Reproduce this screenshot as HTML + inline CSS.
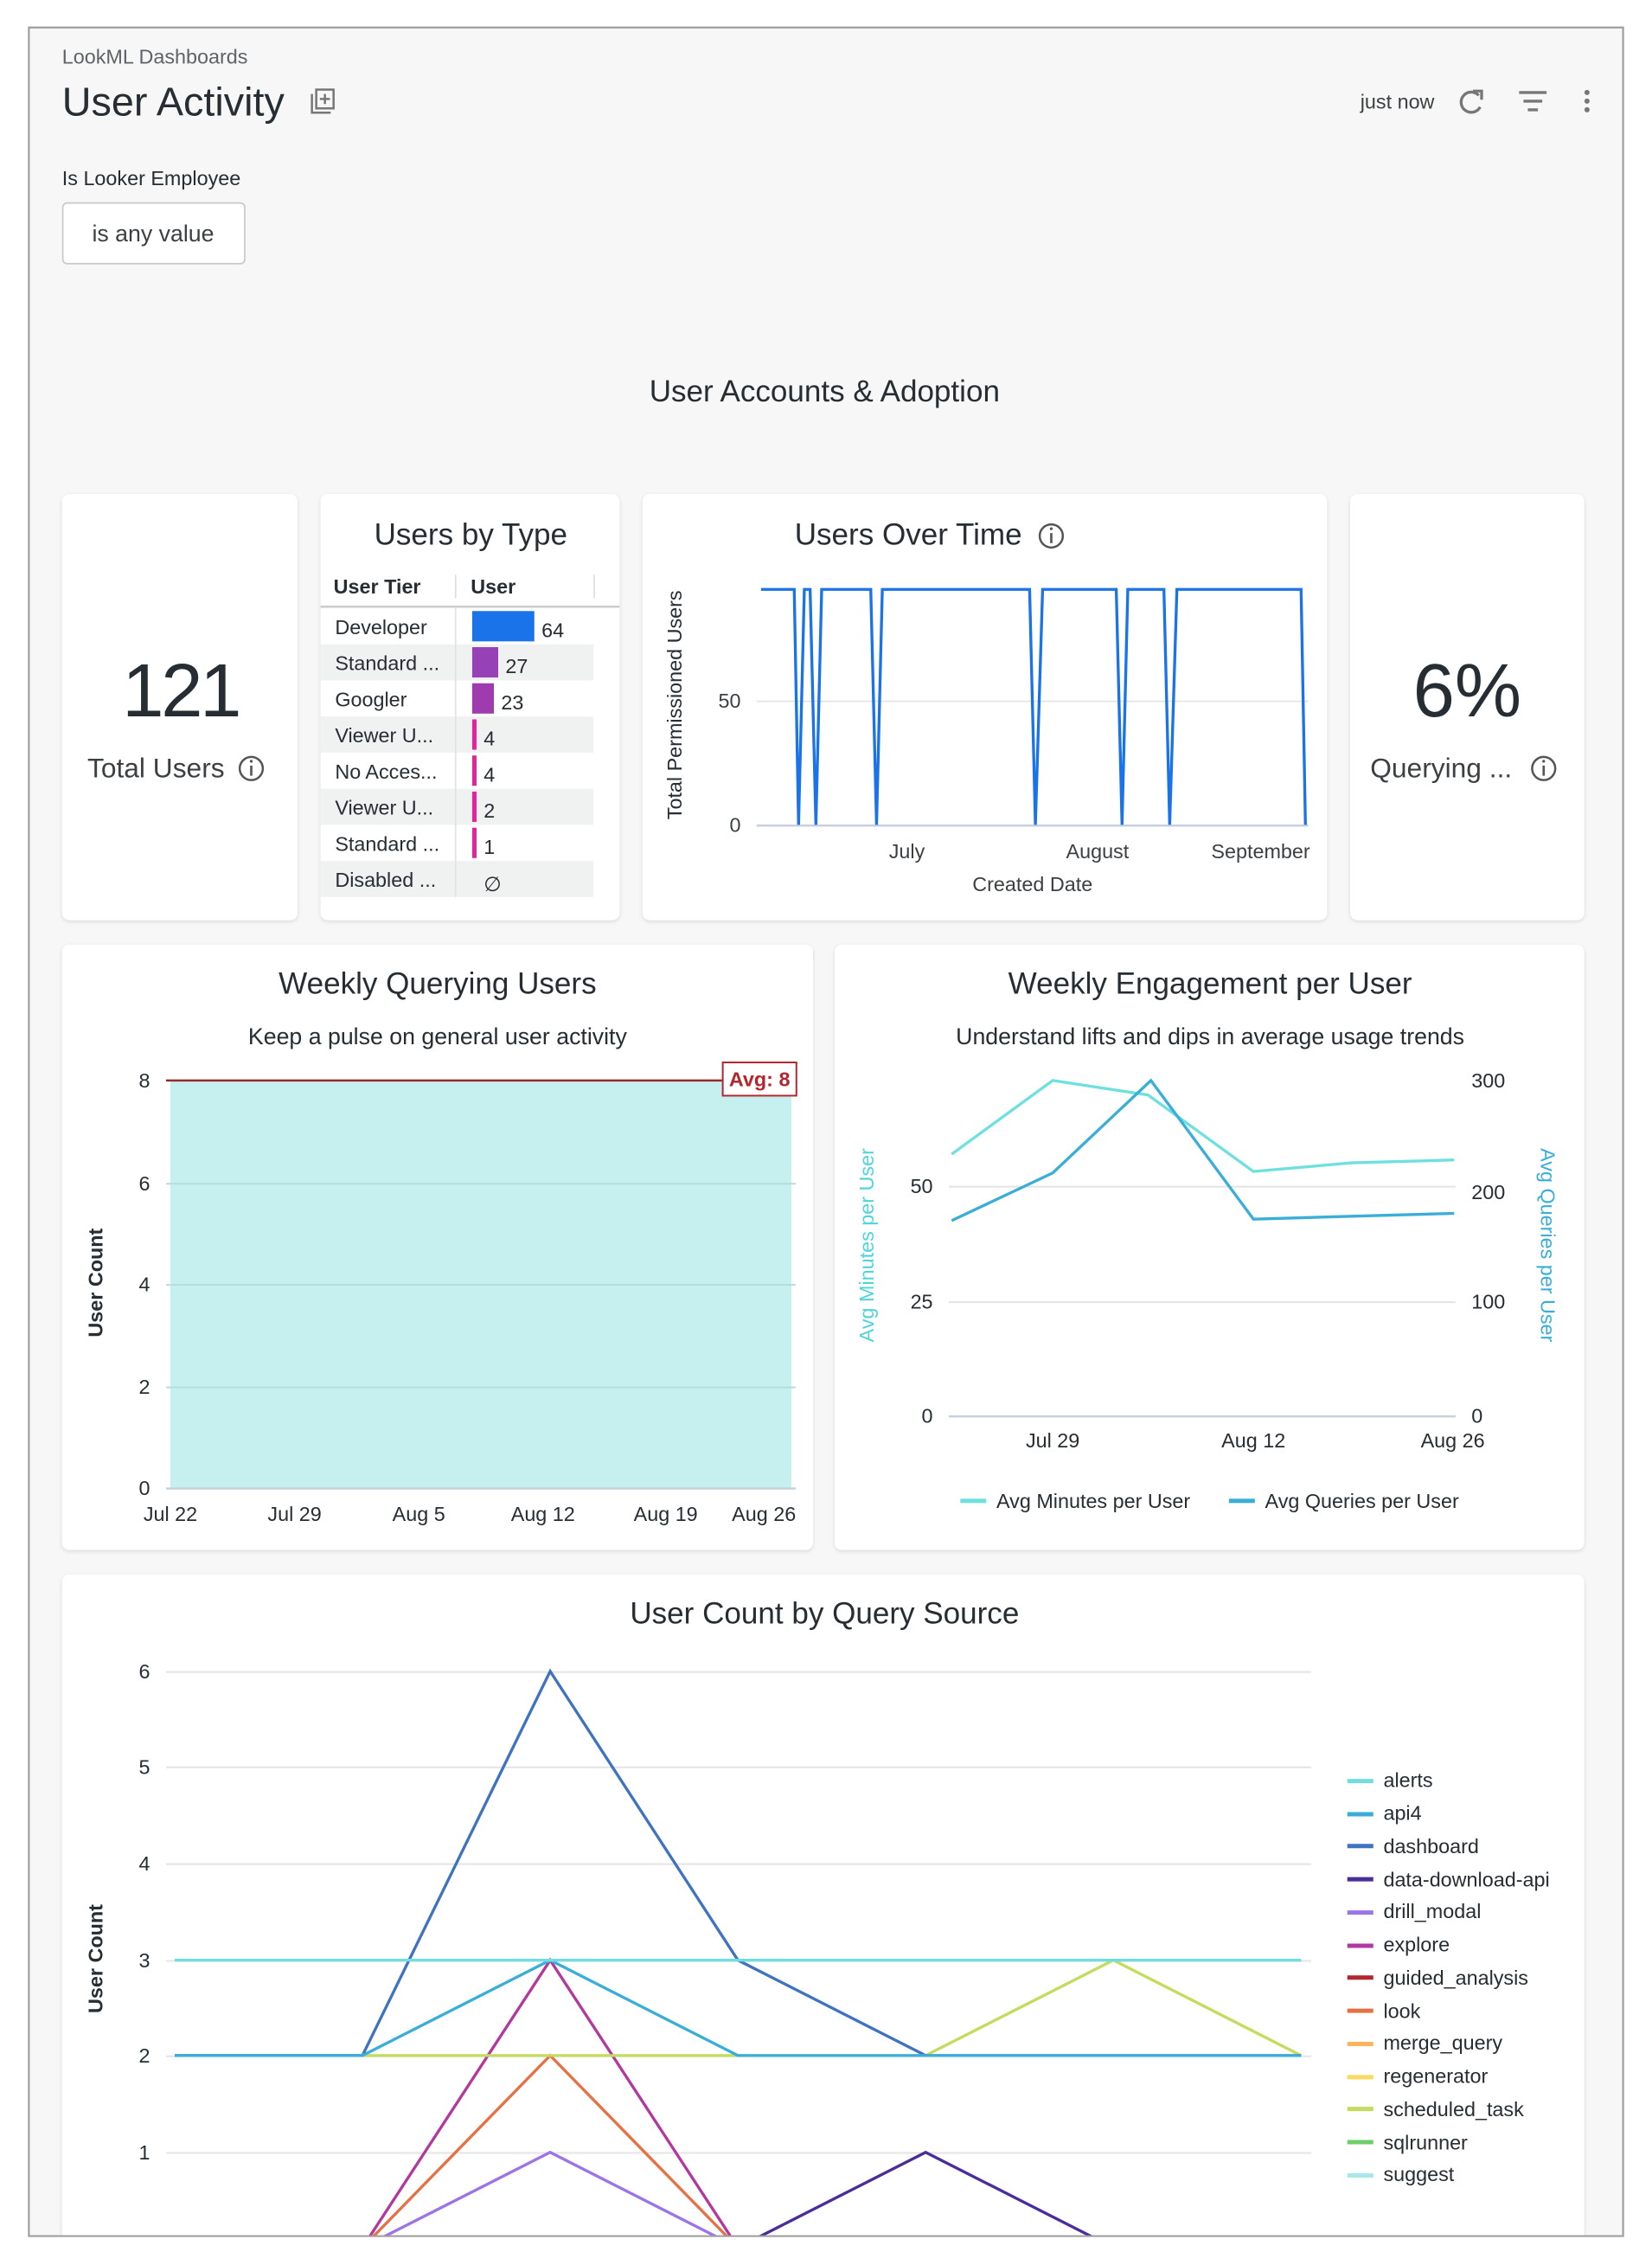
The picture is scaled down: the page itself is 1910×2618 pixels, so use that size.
<!DOCTYPE html>
<html><head><meta charset="utf-8"><style>
html,body{margin:0;padding:0;background:#fff;}
svg{display:block;font-family:"Liberation Sans",Arial,sans-serif;}
</style></head><body>
<svg width="1910" height="2618" viewBox="0 0 1144 1568" xmlns="http://www.w3.org/2000/svg">
<defs>
<filter id="sh" x="-5%" y="-5%" width="110%" height="110%"><feDropShadow dx="0" dy="1" stdDeviation="1.5" flood-color="#000" flood-opacity="0.12"/></filter>
<clipPath id="fr"><rect x="20" y="19" width="1104" height="1529"/></clipPath>
</defs>
<rect x="0" y="0" width="1144" height="1568" fill="#fff"/>
<rect x="20" y="19" width="1104" height="1529" fill="#f7f7f7" stroke="#9e9e9e" stroke-width="1.2"/>
<g clip-path="url(#fr)">
<!-- header -->
<text x="43" y="44" font-size="14" fill="#5f6368">LookML Dashboards</text>
<text x="43" y="80" font-size="28" fill="#262d33">User Activity</text>
<rect x="219" y="62" width="12" height="13" fill="none" stroke="#777" stroke-width="1.5"/>
<path d="M216 65 V78 H229" fill="none" stroke="#777" stroke-width="1.5"/>
<path d="M225 65 V72 M221.5 68.5 H228.5" stroke="#777" stroke-width="1.5"/>
<text x="942" y="75" font-size="14" fill="#3c4043">just now</text>
<path d="M1024 66 A7 7 0 1 0 1025 74" fill="none" stroke="#777" stroke-width="2"/>
<path d="M1020 63 L1026 63 L1026 69" fill="none" stroke="#777" stroke-width="2"/>
<path d="M1052 64 H1071 M1055 70 H1068 M1058 76 H1065" stroke="#777" stroke-width="2"/>
<circle cx="1099" cy="64" r="1.8" fill="#777"/><circle cx="1099" cy="70" r="1.8" fill="#777"/><circle cx="1099" cy="76" r="1.8" fill="#777"/>
<text x="43" y="128" font-size="14" fill="#262d33">Is Looker Employee</text>
<rect x="43.5" y="140.5" width="126" height="42" rx="3" fill="#fff" stroke="#c8c8c8"/>
<text x="106" y="167" font-size="16" fill="#3c4043" text-anchor="middle">is any value</text>
<text x="571" y="278" font-size="21" fill="#262d33" text-anchor="middle">User Accounts &amp; Adoption</text>

<!-- row1 cards -->
<g filter="url(#sh)" fill="#fff">
<rect x="43" y="342" width="163" height="295" rx="5"/>
<rect x="222" y="342" width="207" height="295" rx="5"/>
<rect x="445" y="342" width="474" height="295" rx="5"/>
<rect x="935" y="342" width="162" height="295" rx="5"/>
<rect x="43" y="654" width="520" height="419" rx="5"/>
<rect x="578" y="654" width="519" height="419" rx="5"/>
<rect x="43" y="1090" width="1054" height="500" rx="5"/>
</g>

<!-- Total users -->
<text x="125" y="496" font-size="52" fill="#262d33" text-anchor="middle" letter-spacing="-2">121</text>
<text x="108" y="538" font-size="19" fill="#3c4043" text-anchor="middle">Total Users</text>
<circle cx="174" cy="532" r="8" fill="none" stroke="#555" stroke-width="1.5"/><path d="M174 530 V537" stroke="#555" stroke-width="1.6"/><circle cx="174" cy="527" r="1" fill="#555"/>

<!-- Users by type -->
<text x="326" y="377" font-size="21" fill="#262d33" text-anchor="middle">Users by Type</text>
<text x="231" y="411" font-size="14" font-weight="bold" fill="#262d33">User Tier</text>
<text x="326" y="411" font-size="14" font-weight="bold" fill="#262d33">User</text>
<path d="M315.5 398 V414 M411.5 398 V414" stroke="#ddd"/>
<path d="M222 420 H429" stroke="#ccc" stroke-width="1.5"/>
<g fill="#f0f1f1">
<rect x="222" y="446" width="189" height="25"/><rect x="222" y="496" width="189" height="25"/>
<rect x="222" y="546" width="189" height="25"/><rect x="222" y="596" width="189" height="25"/>
</g>
<path d="M315.5 421 V621" stroke="#e2e2e2"/>
<g font-size="14" fill="#262d33">
<text x="232" y="439">Developer</text><text x="232" y="464">Standard ...</text><text x="232" y="489">Googler</text>
<text x="232" y="514">Viewer U...</text><text x="232" y="539">No Acces...</text><text x="232" y="564">Viewer U...</text>
<text x="232" y="589">Standard ...</text><text x="232" y="614">Disabled ...</text>
<text x="375" y="441">64</text><text x="350" y="466">27</text><text x="347" y="491">23</text>
<text x="335" y="516">4</text><text x="335" y="541">4</text><text x="335" y="566">2</text><text x="335" y="591">1</text>
<text x="335" y="617">∅</text>
</g>
<rect x="327" y="423" width="43" height="21" fill="#1a73e8"/>
<rect x="327" y="448" width="18" height="21" fill="#9641b5"/>
<rect x="327" y="473" width="15" height="21" fill="#9e3bb0"/>
<g fill="#e0249a"><rect x="327" y="498" width="3" height="21"/><rect x="327" y="523" width="3" height="21"/><rect x="327" y="548" width="3" height="21"/><rect x="327" y="573" width="3" height="21"/></g>

<!-- Users over time -->
<text x="629" y="377" font-size="21" fill="#262d33" text-anchor="middle">Users Over Time</text>
<circle cx="728" cy="371" r="8" fill="none" stroke="#555" stroke-width="1.5"/><path d="M728 369 V376" stroke="#555" stroke-width="1.6"/><circle cx="728" cy="366" r="1" fill="#555"/>
<path d="M524 485.5 H906" stroke="#e4e4e4"/>
<path d="M524 571.5 H906" stroke="#c8d0e0" stroke-width="1.5"/>
<text x="513" y="490" font-size="14" fill="#3c4043" text-anchor="end">50</text>
<text x="513" y="576" font-size="14" fill="#3c4043" text-anchor="end">0</text>
<text transform="translate(472,488) rotate(-90)" font-size="14" fill="#262d33" text-anchor="middle">Total Permissioned Users</text>
<text x="628" y="594" font-size="14" fill="#3c4043" text-anchor="middle">July</text>
<text x="760" y="594" font-size="14" fill="#3c4043" text-anchor="middle">August</text>
<text x="873" y="594" font-size="14" fill="#3c4043" text-anchor="middle">September</text>
<text x="715" y="617" font-size="14" fill="#3c4043" text-anchor="middle">Created Date</text>
<path d="M527 408 L550 408 L553 571 L557 408 L561 408 L565 571 L569 408 L603 408 L607 571 L611 408 L713 408 L717 571 L722 408 L773 408 L777 571 L781 408 L806 408 L810 571 L815 408 L901 408 L904 571" fill="none" stroke="#1a73e8" stroke-width="2"/>

<!-- Querying -->
<text x="1016" y="496" font-size="52" fill="#262d33" text-anchor="middle">6%</text>
<text x="998" y="538" font-size="19" fill="#3c4043" text-anchor="middle">Querying ...</text>
<circle cx="1069" cy="532" r="8" fill="none" stroke="#555" stroke-width="1.5"/><path d="M1069 530 V537" stroke="#555" stroke-width="1.6"/><circle cx="1069" cy="527" r="1" fill="#555"/>

<!-- Weekly Querying Users -->
<text x="303" y="688" font-size="21" fill="#262d33" text-anchor="middle">Weekly Querying Users</text>
<text x="303" y="723" font-size="16" fill="#262d33" text-anchor="middle">Keep a pulse on general user activity</text>
<rect x="118" y="748" width="430" height="282" fill="#c5f0ef"/>
<path d="M115 819.5 H551 M115 889.5 H551 M115 960.5 H551" stroke="#b2dedc" stroke-width="1.2"/>
<path d="M115 1030.5 H551" stroke="#c8d0e0" stroke-width="1.5"/>
<path d="M115 748 H500" stroke="#9a2a2a" stroke-width="1.5"/>
<rect x="500.5" y="735.5" width="51" height="23" fill="#fff" stroke="#b3262e" stroke-width="1.2"/>
<text x="526" y="752" font-size="14" font-weight="bold" fill="#b3262e" text-anchor="middle">Avg: 8</text>
<g font-size="14" fill="#262d33" text-anchor="middle">
<text x="100" y="753">8</text><text x="100" y="824">6</text><text x="100" y="894">4</text><text x="100" y="965">2</text><text x="100" y="1035">0</text>
<text x="118" y="1053">Jul 22</text><text x="204" y="1053">Jul 29</text><text x="290" y="1053">Aug 5</text><text x="376" y="1053">Aug 12</text><text x="461" y="1053">Aug 19</text><text x="529" y="1053">Aug 26</text>
</g>
<text transform="translate(71,888) rotate(-90)" font-size="14" font-weight="bold" fill="#262d33" text-anchor="middle">User Count</text>

<!-- Weekly Engagement -->
<text x="838" y="688" font-size="21" fill="#262d33" text-anchor="middle">Weekly Engagement per User</text>
<text x="838" y="723" font-size="16" fill="#262d33" text-anchor="middle">Understand lifts and dips in average usage trends</text>
<path d="M657 821.5 H1008 M657 901.5 H1008" stroke="#e4e4e4" stroke-width="1.2"/>
<path d="M657 980.5 H1008" stroke="#c8d0e0" stroke-width="1.5"/>
<g font-size="14" fill="#262d33">
<text x="646" y="826" text-anchor="end">50</text><text x="646" y="906" text-anchor="end">25</text><text x="646" y="985" text-anchor="end">0</text>
<text x="1019" y="753">300</text><text x="1019" y="830">200</text><text x="1019" y="906">100</text><text x="1019" y="985">0</text>
<text x="729" y="1002" text-anchor="middle">Jul 29</text><text x="868" y="1002" text-anchor="middle">Aug 12</text><text x="1006" y="1002" text-anchor="middle">Aug 26</text>
</g>
<text transform="translate(605,862) rotate(-90)" font-size="14" fill="#4fd5d8" text-anchor="middle">Avg Minutes per User</text>
<text transform="translate(1067,862) rotate(90)" font-size="14" fill="#3aaed8" text-anchor="middle">Avg Queries per User</text>
<path d="M659 799 L729 748 L795 758 L868 811 L936 805 L1007 803" fill="none" stroke="#6fe0e0" stroke-width="2"/>
<path d="M659 845 L729 812 L797 748 L868 844 L936 842 L1007 840" fill="none" stroke="#3aaed8" stroke-width="2"/>
<path d="M665 1039 H683" stroke="#6fe0e0" stroke-width="3"/>
<path d="M851 1039 H869" stroke="#3aaed8" stroke-width="3"/>
<text x="690" y="1044" font-size="14" fill="#262d33">Avg Minutes per User</text>
<text x="876" y="1044" font-size="14" fill="#262d33">Avg Queries per User</text>

<!-- User Count by Query Source -->
<text x="571" y="1124" font-size="21" fill="#262d33" text-anchor="middle">User Count by Query Source</text>
<path d="M115 1157.5 H908 M115 1223.5 H908 M115 1290.5 H908 M115 1357.5 H908 M115 1423.5 H908 M115 1490.5 H908" stroke="#e4e4e4" stroke-width="1.2"/>
<g font-size="14" fill="#262d33" text-anchor="middle">
<text x="100" y="1162">6</text><text x="100" y="1228">5</text><text x="100" y="1295">4</text><text x="100" y="1362">3</text><text x="100" y="1428">2</text><text x="100" y="1495">1</text>
</g>
<text transform="translate(71,1356) rotate(-90)" font-size="14" font-weight="bold" fill="#262d33" text-anchor="middle">User Count</text>
<g fill="none" stroke-width="2">
<path d="M251 1556 L381 1490 L511 1556" stroke="#9b74e6"/>
<path d="M251 1556 L381 1423 L511 1556" stroke="#e57144"/>
<path d="M251 1556 L381 1357 L511 1556" stroke="#b3389e"/>
<path d="M511 1556 L641 1490 L771 1556" stroke="#4a2d9a"/>
<path d="M121 1423 L641 1423 L771 1357 L901 1423" stroke="#c3dc5c"/>
<path d="M121 1423 L251 1423 L381 1157 L511 1357 L641 1423 L901 1423" stroke="#3f73c1"/>
<path d="M121 1423 L251 1423 L381 1357 L511 1423 L901 1423" stroke="#3aaed8"/>
<path d="M121 1357 L901 1357" stroke="#72dde0"/>
</g>
<g font-size="14" fill="#262d33">
<path d="M933 1233 H951" stroke="#72dde0" stroke-width="3"/><text x="958" y="1237">alerts</text>
<path d="M933 1256 H951" stroke="#3aaed8" stroke-width="3"/><text x="958" y="1260">api4</text>
<path d="M933 1278 H951" stroke="#3f73c1" stroke-width="3"/><text x="958" y="1283">dashboard</text>
<path d="M933 1301 H951" stroke="#4a2d9a" stroke-width="3"/><text x="958" y="1306">data-download-api</text>
<path d="M933 1324 H951" stroke="#9b74e6" stroke-width="3"/><text x="958" y="1328">drill_modal</text>
<path d="M933 1347 H951" stroke="#b3389e" stroke-width="3"/><text x="958" y="1351">explore</text>
<path d="M933 1369 H951" stroke="#b3262e" stroke-width="3"/><text x="958" y="1374">guided_analysis</text>
<path d="M933 1392 H951" stroke="#e57144" stroke-width="3"/><text x="958" y="1397">look</text>
<path d="M933 1415 H951" stroke="#fbb35c" stroke-width="3"/><text x="958" y="1419">merge_query</text>
<path d="M933 1438 H951" stroke="#ffd95f" stroke-width="3"/><text x="958" y="1442">regenerator</text>
<path d="M933 1460 H951" stroke="#c3dc5c" stroke-width="3"/><text x="958" y="1465">scheduled_task</text>
<path d="M933 1483 H951" stroke="#6ccf6a" stroke-width="3"/><text x="958" y="1488">sqlrunner</text>
<path d="M933 1506 H951" stroke="#a8e8ea" stroke-width="3"/><text x="958" y="1510">suggest</text>
</g>
</g>
<rect x="20" y="19" width="1104" height="1529" fill="none" stroke="#9e9e9e" stroke-width="1.2"/>
</svg>
</body></html>
